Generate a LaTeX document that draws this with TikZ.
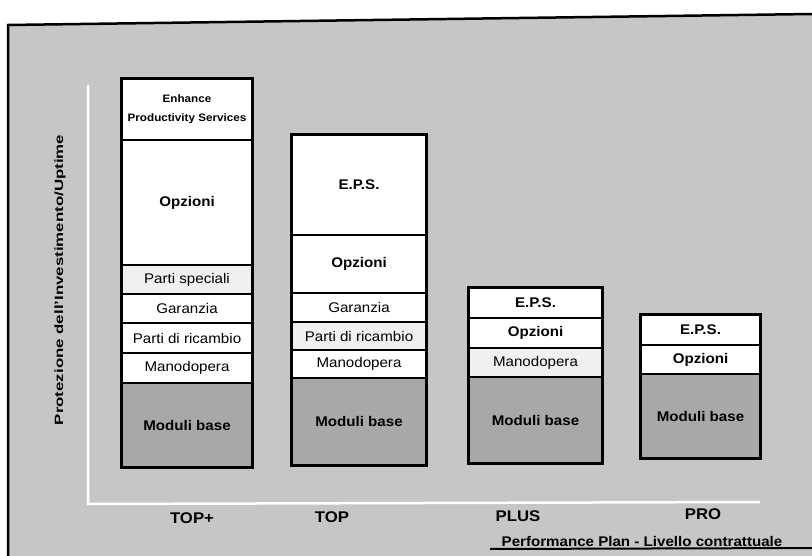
\documentclass[tikz,border=0pt]{standalone}
\usepackage{fontspec}
\setmainfont{Liberation Sans}[FakeStretch=1.08]
\begin{document}
\begin{tikzpicture}[x=1pt,y=-1pt,
  cell/.style={draw=black, line width=1.1pt, fill=white, inner sep=0pt, align=center,
    font=\fontsize{14}{16}\selectfont},
  bcell/.style={cell, font=\bfseries\fontsize{14}{16}\selectfont},
  lcell/.style={cell, fill=gray!12},
  basecell/.style={cell, fill=gray!68, font=\bfseries\fontsize{14}{16}\selectfont},
  barframe/.style={draw=black, line width=2.6pt},
  axisline/.style={draw=white, line width=2.5pt},
  tier/.style={font=\bfseries\fontsize{15.5}{18}\selectfont},
  border/.style={draw=black, line width=2.5pt}]
\useasboundingbox (0,0) rectangle (812,556);
% background panel
\fill[gray!45] (8,25) -- (812,14) -- (812,556) -- (8,556) -- cycle;
\draw[border] (8,556) -- (8,25) -- (812,14);
\coordinate (bl) at (490,549);
\coordinate (br) at (812,548);
\draw[black, line width=2pt] (bl) -- (br);
% axes
\coordinate (ytop) at (88,85);
\coordinate (orig) at (88,504);
\coordinate (xend) at (760,502);
\draw[axisline] (ytop) -- (orig) -- (xend);
\node[rotate=90, font=\bfseries\fontsize{12}{14}\selectfont] (ylab) at (60,280)
  {\scalebox{1.3}[1]{Protezione dell'Investimento/Uptime}};

% TOP+ bar (x 122-252)
\node[bcell, minimum width=130pt, minimum height=61pt] (a1) at (187,109.5)
  {\fontsize{10.8}{12}\selectfont Enhance\\[3pt]\fontsize{10.8}{12}\selectfont Productivity Services};
\node[bcell, minimum width=130pt, minimum height=125pt] (a2) at (187,202.5) {Opzioni};
\node[lcell, minimum width=130pt, minimum height=29pt] (a3) at (187,279.5) {Parti speciali};
\node[cell, minimum width=130pt, minimum height=29pt] (a4) at (187,308.5) {Garanzia};
\node[cell, minimum width=130pt, minimum height=30pt] (a5) at (187,338) {Parti di ricambio};
\node[cell, minimum width=130pt, minimum height=30pt] (a6) at (187,368) {Manodopera};
\node[basecell, minimum width=130pt, minimum height=84pt] (a7) at (187,425) {Moduli base};
\draw[barframe] (a1.north west) rectangle (a7.south east);

% TOP bar (x 292-426)
\node[bcell, minimum width=134pt, minimum height=100pt] (b1) at (359,185) {E.P.S.};
\node[bcell, minimum width=134pt, minimum height=58pt] (b2) at (359,264) {Opzioni};
\node[cell, minimum width=134pt, minimum height=29pt] (b3) at (359,307.5) {Garanzia};
\node[lcell, minimum width=134pt, minimum height=28pt] (b4) at (359,336) {Parti di ricambio};
\node[cell, minimum width=134pt, minimum height=28pt] (b5) at (359,364) {Manodopera};
\node[basecell, minimum width=134pt, minimum height=87pt] (b6) at (359,421.5) {Moduli base};
\draw[barframe] (b1.north west) rectangle (b6.south east);

% PLUS bar (x 469-602)
\node[bcell, minimum width=133pt, minimum height=30pt] (c1) at (535.5,303) {E.P.S.};
\node[bcell, minimum width=133pt, minimum height=30pt] (c2) at (535.5,333) {Opzioni};
\node[lcell, minimum width=133pt, minimum height=29pt] (c3) at (535.5,362.5) {Manodopera};
\node[basecell, minimum width=133pt, minimum height=86pt] (c4) at (535.5,420) {Moduli base};
\draw[barframe] (c1.north west) rectangle (c4.south east);

% PRO bar (x 641-760)
\node[bcell, minimum width=119pt, minimum height=30pt] (d1) at (700.5,330) {E.P.S.};
\node[bcell, minimum width=119pt, minimum height=29pt] (d2) at (700.5,359.5) {Opzioni};
\node[basecell, minimum width=119pt, minimum height=84pt] (d3) at (700.5,416) {Moduli base};
\draw[barframe] (d1.north west) rectangle (d3.south east);

% tier labels
\node[tier] (ta) at (192,518) {TOP+};
\node[tier] (tb) at (332,517) {TOP};
\node[tier] (tc) at (518,516) {PLUS};
\node[tier] (td) at (703,514) {PRO};
\node[font=\bfseries\fontsize{14}{16}\selectfont] (xlab) at (642,541)
  {Performance Plan - Livello contrattuale};
\end{tikzpicture}
\end{document}
